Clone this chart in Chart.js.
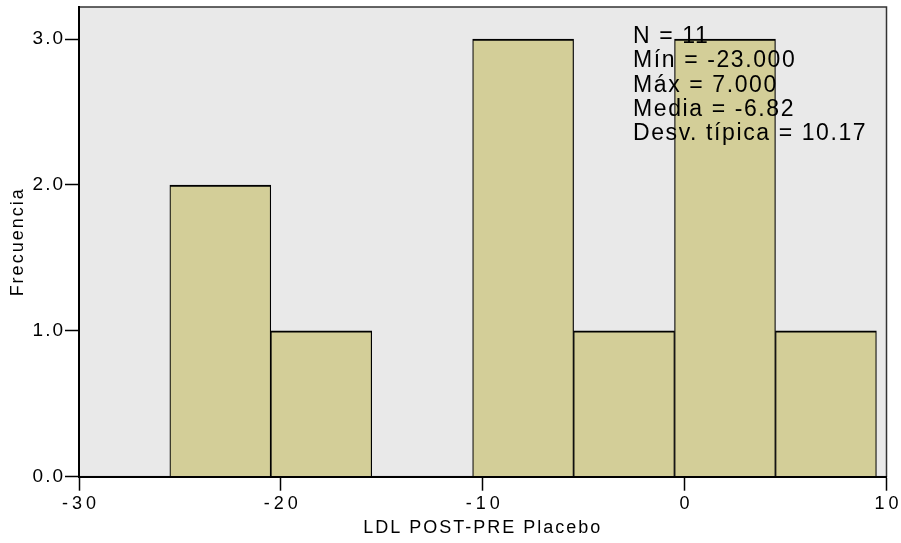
<!DOCTYPE html>
<html lang="es">
<head>
    <meta charset="UTF-8">
    <title>Histograma LDL POST-PRE Placebo</title>
    <style>
        body { margin: 0; padding: 0; background: #fff; }
        #wrap { width: 901px; height: 543px; }
    </style>
</head>
<body>
    <div id="wrap"><canvas id="hist" width="901" height="543"></canvas></div>

    <script src="https://cdn.jsdelivr.net/npm/chart.js"></script>
    <script>
        // histogram bins (centres, width 5) and counts
        const binCenters = [-23, -18, -13, -8, -3, 2, 7];
        const frequencies = [2, 1, 0, 3, 1, 3, 1];
        const xTickValues = [-30, -20, -10, 0, 10];
        const yTickValues = [0, 1, 2, 3];
        const statsLines = ['N = 11', 'Mín = -23.000', 'Máx = 7.000', 'Media = -6.82', 'Desv. típica = 10.17'];

        const FONT = "'Liberation Sans', Arial, sans-serif";

        // grey plot background + thin frame
        const plotFrame = {
            id: 'plotFrame',
            afterLayout(chart) {
                // wider letter spacing on the x tick labels, like the SPSS output
                const xs = chart.scales.x;
                if (!xs._spaced) {
                    const orig = xs.drawLabels;
                    xs.drawLabels = function (area) {
                        const c = this.ctx;
                        c.save();
                        c.letterSpacing = '4px';
                        c.translate(2, 0);
                        orig.call(this, area);
                        c.restore();
                    };
                    xs._spaced = true;
                }
            },
            beforeDraw(chart) {
                const { ctx, chartArea: a } = chart;
                ctx.save();
                ctx.fillStyle = '#e9e9e9';
                ctx.fillRect(a.left, a.top, a.right - a.left, a.bottom - a.top);
                ctx.strokeStyle = '#333';
                ctx.lineWidth = 1.5;
                ctx.strokeRect(a.left, a.top, a.right - a.left, a.bottom - a.top);
                ctx.restore();
                ctx.letterSpacing = '2px';
            }
        };

        // N / Mín / Máx ... box, drawn over the bars
        const statsText = {
            id: 'statsText',
            afterDatasetsDraw(chart) {
                const ctx = chart.ctx;
                ctx.save();
                ctx.font = '23px ' + FONT;
                ctx.letterSpacing = '1.6px';
                ctx.fillStyle = '#000';
                ctx.textAlign = 'left';
                ctx.textBaseline = 'alphabetic';
                statsLines.forEach((line, i) => {
                    ctx.fillText(line, 633, 43 + i * 24.3);
                });
                ctx.restore();
            }
        };

        const ctx = document.getElementById('hist').getContext('2d');
        const chart = new Chart(ctx, {
            type: 'bar',
            data: {
                datasets: [{
                    data: binCenters.map((c, i) => ({ x: c, y: frequencies[i] })),
                    backgroundColor: '#d3ce98',
                    borderColor: '#000',
                    borderWidth: { top: 2, left: 1.2, right: 1.2, bottom: 0 },
                    borderSkipped: false,
                    barPercentage: 1,
                    categoryPercentage: 1
                }]
            },
            options: {
                responsive: false,
                animation: false,
                layout: { padding: { left: 0, top: 7, right: 14.5, bottom: 0 } },
                plugins: {
                    legend: { display: false },
                    tooltip: { enabled: false }
                },
                scales: {
                    x: {
                        type: 'linear',
                        min: -30,
                        max: 10,
                        offset: false,
                        afterFit(scale) {
                            scale.height = 66.3;
                            scale.paddingLeft = 0;
                            scale.paddingRight = 0;
                        },
                        afterBuildTicks(scale) { scale.ticks = xTickValues.map(v => ({ value: v })); },
                        grid: { offset: false, drawOnChartArea: false, drawTicks: true, tickLength: 14, tickColor: '#000', tickWidth: 1.5 },
                        border: { display: true, color: '#000', width: 2, z: 1 },
                        ticks: {
                            color: '#000',
                            padding: 3,
                            maxRotation: 0,
                            font: { family: FONT, size: 18 },
                            callback: v => String(v)
                        },
                        title: {
                            display: true,
                            text: 'LDL POST-PRE Placebo',
                            color: '#000',
                            font: { family: FONT, size: 18 },
                            padding: { top: 0, bottom: 4 }
                        }
                    },
                    y: {
                        min: 0,
                        max: 3.22,
                        afterFit(scale) {
                            scale.width = 79;
                            scale.paddingTop = 0;
                            scale.paddingBottom = 0;
                        },
                        afterBuildTicks(scale) { scale.ticks = yTickValues.map(v => ({ value: v })); },
                        grid: { drawOnChartArea: false, drawTicks: true, tickLength: 14, tickColor: '#000', tickWidth: 1.5 },
                        border: { display: true, color: '#000', width: 2, z: 1 },
                        ticks: {
                            color: '#000',
                            padding: 0,
                            font: { family: FONT, size: 19 },
                            callback: v => v.toFixed(1)
                        },
                        title: {
                            display: true,
                            text: 'Frecuencia',
                            color: '#000',
                            font: { family: FONT, size: 18 },
                            padding: { top: 7, bottom: 0 }
                        }
                    }
                }
            },
            plugins: [plotFrame, statsText]
        });
    </script>
</body>
</html>
